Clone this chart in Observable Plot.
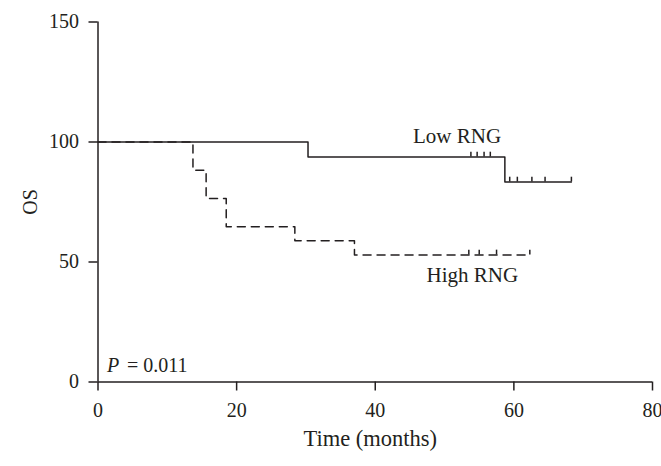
<!DOCTYPE html>
<html>
<head>
<meta charset="utf-8">
<script src="https://cdn.jsdelivr.net/npm/d3@7"></script>
<script src="https://cdn.jsdelivr.net/npm/@observablehq/plot@0.6"></script>
<style>
  html, body { margin: 0; padding: 0; background: #fff; }
  #chart svg { display: block; }
</style>
</head>
<body>
<div id="chart"></div>
<script>
// Low RNG (solid) Kaplan–Meier step points
const lowTimes = [0, 30.3, 58.7, 68.3];
const lowSurv = [100, 93.75, 83.33, 83.33];
// High RNG (dashed) step points
const highTimes = [0, 13.7, 15.6, 18.5, 28.4, 37.0, 62.3];
const highSurv = [100, 88.24, 76.47, 64.71, 58.82, 52.94, 52.94];
// Censor marks
const lowCensorTimes = [53.8, 54.7, 55.7, 56.6, 59.4, 60.5, 62.6, 64.5, 68.3];
const lowCensorSurv = [93.75, 93.75, 93.75, 93.75, 83.33, 83.33, 83.33, 83.33, 83.33];
const highCensorTimes = [53.5, 55.0, 57.5, 62.3];
const highCensorSurv = [52.94, 52.94, 52.94, 52.94];
// Tick values
const xTicks = [0, 20, 40, 60, 80];
const yTicks = [0, 50, 100, 150];
// Group labels and their anchor points (time, OS)
const groupLabels = ["Low RNG", "High RNG"];
const groupLabelTimes = [51.8, 54.0];
const groupLabelSurv = [102.5, 44.5];
// P-value annotation
const pLabelTime = [1.3];
const pLabelSurv = [6.7];
// Axis titles
const xTitle = ["Time (months)"];
const yTitle = "OS";

const low = lowTimes.map((t, i) => ({t, s: lowSurv[i]}));
const high = highTimes.map((t, i) => ({t, s: highSurv[i]}));
const lowC = lowCensorTimes.map((t, i) => ({t, s: lowCensorSurv[i]}));
const highC = highCensorTimes.map((t, i) => ({t, s: highCensorSurv[i]}));
const labels = groupLabels.map((text, i) => ({text, t: groupLabelTimes[i], s: groupLabelSurv[i]}));
const pLab = pLabelTime.map((t, i) => ({t, s: pLabelSurv[i]}));

const ink = "#231f20";

const chart = Plot.plot({
  width: 661,
  height: 466,
  marginLeft: 97.5,
  marginRight: 9,
  marginTop: 21.5,
  marginBottom: 84.5,
  style: {fontFamily: "'Liberation Serif', 'DejaVu Serif', serif", fontSize: "20px", color: ink, background: "#fff", overflow: "hidden"},
  x: {domain: [0, 80]},
  y: {domain: [0, 150]},
  marks: [
    Plot.axisX({ticks: xTicks, tickSize: 9, tickPadding: 12, stroke: ink, strokeWidth: 1.5, strokeOpacity: 1, label: null}),
    Plot.axisY({ticks: yTicks, tickSize: 9, tickPadding: 10, stroke: ink, strokeWidth: 1.5, strokeOpacity: 1,
      label: yTitle, labelAnchor: "center", labelArrow: "none", labelOffset: 75}),
    Plot.ruleX([0], {stroke: ink, strokeWidth: 1.5}),
    Plot.ruleY([0], {stroke: ink, strokeWidth: 1.5}),
    Plot.text(xTitle, {frameAnchor: "bottom", text: d => d, dy: 64, dx: -5, lineAnchor: "bottom", fontSize: 22.5, fill: ink}),
    Plot.line(high, {x: "t", y: "s", curve: "step-after", stroke: ink, strokeWidth: 1.5, strokeDasharray: "8,6"}),
    Plot.line(low, {x: "t", y: "s", curve: "step-after", stroke: ink, strokeWidth: 1.5}),
    Plot.ruleX(lowC, {x: "t", y1: "s", y2: d => d.s + 2, stroke: ink, strokeWidth: 1.5}),
    Plot.ruleX(highC, {x: "t", y1: "s", y2: d => d.s + 2, stroke: ink, strokeWidth: 1.5}),
    Plot.text(labels, {x: "t", y: "s", text: "text", fill: ink, textAnchor: "middle", lineAnchor: "middle", fontSize: 21}),
    Plot.text(pLab, {x: "t", y: "s", text: () => "P", fill: ink, textAnchor: "start", fontStyle: "italic"}),
    Plot.text(pLab, {x: "t", y: "s", text: () => "= 0.011", fill: ink, textAnchor: "start", dx: 20})
  ]
});
document.getElementById("chart").appendChild(chart);
</script>
</body>
</html>
